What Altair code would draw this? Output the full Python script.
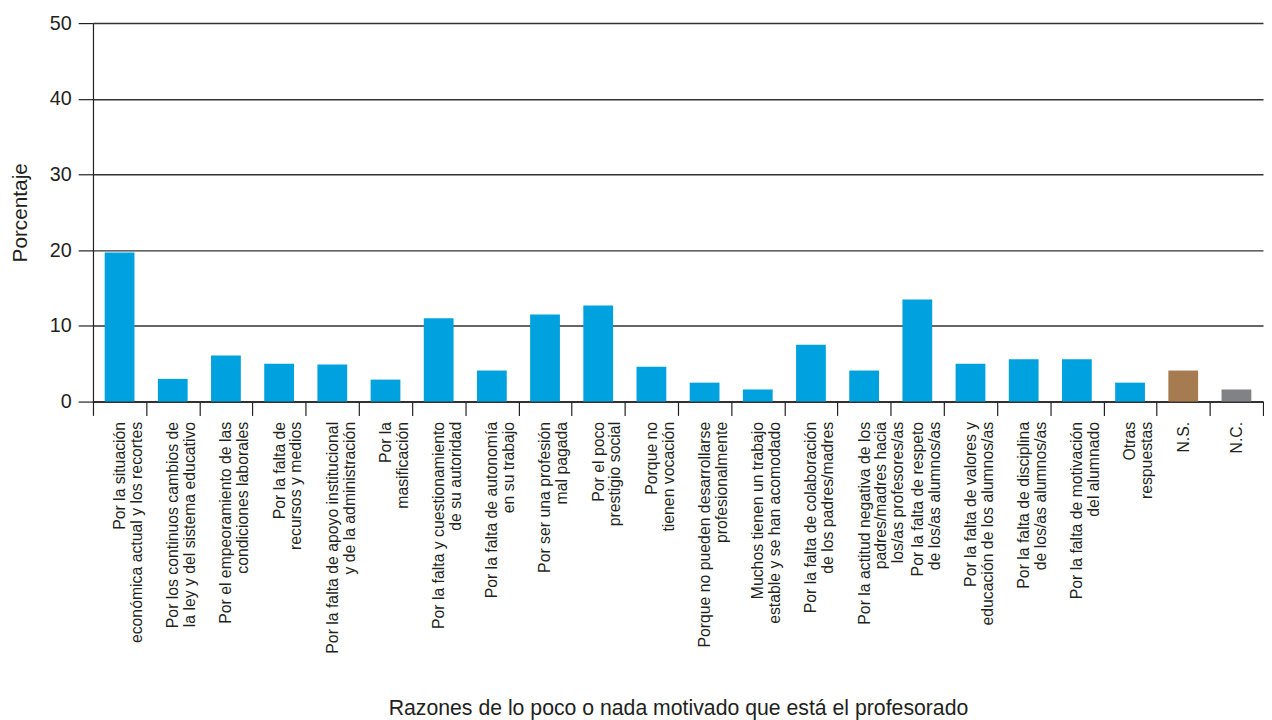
import altair as alt
import pandas as pd

categories = [
    "Por la situación\neconómica actual y los recortes",
    "Por los continuos cambios de\nla ley y del sistema educativo",
    "Por el empeoramiento de las\ncondiciones laborales",
    "Por la falta de\nrecursos y medios",
    "Por la falta de apoyo institucional\ny de la administración",
    "Por la\nmasificación",
    "Por la falta y cuestionamiento\nde su autoridad",
    "Por la falta de autonomía\nen su trabajo",
    "Por ser una profesión\nmal pagada",
    "Por el poco\nprestigio social",
    "Porque no\ntienen vocación",
    "Porque no pueden desarrollarse\nprofesionalmente",
    "Muchos tienen un trabajo\nestable y se han acomodado",
    "Por la falta de colaboración\nde los padres/madres",
    "Por la actitud negativa de los\npadres/madres hacia\nlos/as profesores/as",
    "Por la falta de respeto\nde los/as alumnos/as",
    "Por la falta de valores y\neducación de los alumnos/as",
    "Por la falta de disciplina\nde los/as alumnos/as",
    "Por la falta de motivación\ndel alumnado",
    "Otras\nrespuestas",
    "N.S.",
    "N.C.",
]
values = [19.7, 3.0, 6.1, 5.0, 4.9, 2.9, 11.0, 4.1, 11.5, 12.7, 4.6,
          2.5, 1.6, 7.5, 4.1, 13.5, 5.0, 5.6, 5.6, 2.5, 4.1, 1.6]
groups = ["Respuesta"] * 20 + ["N.S.", "N.C."]
group_names = ["Respuesta", "N.S.", "N.C."]
group_colors = ["#00A1DF", "#A67B50", "#818286"]

df = pd.DataFrame({"razon": categories, "pct": values, "grupo": groups})

FONT = "Liberation Sans"
TXT = "#231F20"

chart = alt.Chart(df).mark_bar(width=alt.RelativeBandSize(0.56)).encode(
    x=alt.X(
        "razon:N",
        sort=categories,
        title="Razones de lo poco o nada motivado que está el profesorado",
        scale=alt.Scale(paddingInner=0, paddingOuter=0),
        axis=alt.Axis(
            labelAngle=-90,
            labelExpr="split(datum.label, '\\n')",
            labelLimit=400,
            labelLineHeight=17,
            labelFontSize=16,
            labelFont=FONT,
            labelColor=TXT,
            labelPadding=6,
            tickBand="extent",
            tickSize=14,
            tickColor="#231F20",
            tickWidth=1.2,
            domainColor="#231F20",
            domainWidth=1.5,
            titleFont=FONT,
            titleFontSize=21.5,
            titleFontWeight="normal",
            titleColor=TXT,
            titlePadding=100,
        ),
    ),
    y=alt.Y(
        "pct:Q",
        title="Porcentaje",
        scale=alt.Scale(domain=[0, 50]),
        axis=alt.Axis(
            values=[0, 10, 20, 30, 40, 50],
            grid=True,
            gridColor="#333333",
            gridWidth=1.5,
            tickSize=15,
            tickColor="#231F20",
            tickWidth=1.2,
            domainColor="#231F20",
            domainWidth=1.2,
            labelFont=FONT,
            labelFontSize=20,
            labelColor=TXT,
            labelPadding=7,
            titleFont=FONT,
            titleFontSize=21,
            titleFontWeight="normal",
            titleColor=TXT,
            titlePadding=19,
        ),
    ),
    color=alt.Color(
        "grupo:N",
        scale=alt.Scale(domain=group_names, range=group_colors),
        legend=None,
    ),
).properties(
    width=1184,
    height=383,
    padding={"left": 1, "top": 1, "right": 0, "bottom": 0},
).configure_view(stroke=None)

chart.save("out.html", embed_options={"renderer": "svg", "actions": False})
